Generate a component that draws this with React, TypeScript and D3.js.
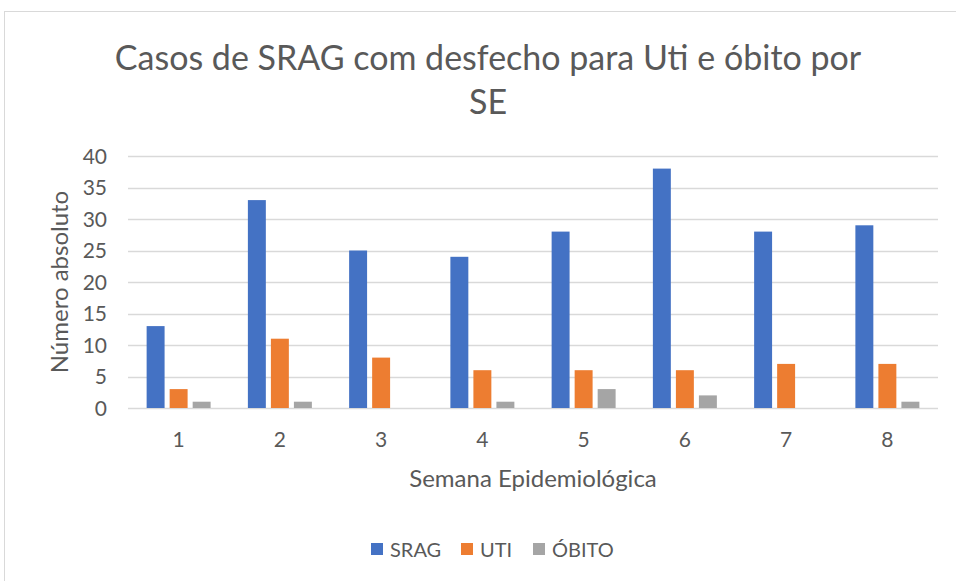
import * as d3 from "d3";

const weeks = ["1", "2", "3", "4", "5", "6", "7", "8"];
const srag = [13, 33, 25, 24, 28, 38, 28, 29];
const uti = [3, 11, 8, 6, 6, 6, 7, 7];
const obito = [1, 1, 0, 1, 3, 2, 0, 1];
const seriesNames = ["SRAG", "UTI", "ÓBITO"];
const seriesColors = ["#4472C4", "#ED7D31", "#A5A5A5"];
const yTicks = [0, 5, 10, 15, 20, 25, 30, 35, 40];

const W = 956;
const H = 581;
const font = "Lato, 'Open Sans', sans-serif";
const textColor = "#595959";

export default function App() {
  const series = [srag, uti, obito];
  const left = 128;
  const right = 938;
  const top = 156;
  const bottom = 408;

  const x0 = d3.scaleBand<string>().domain(weeks).range([left, right]).paddingInner(0.368).paddingOuter(0.184);
  const x1 = d3.scaleBand<string>().domain(seriesNames).range([0, x0.bandwidth()]).paddingInner(0.22);
  const y = d3.scaleLinear().domain([0, 40]).range([bottom, top]);

  const legendX = [371, 461, 533];

  return (
    <svg width={W} height={H} style={{ position: "absolute", left: 0, top: 0 }} fontFamily={font}>
      <rect x={0} y={0} width={W} height={H} fill="#fff" />
      <rect x={4.5} y={11.5} width={1000} height={700} fill="#fff" stroke="#D9D9D9" />
      <text x={488} y={70} textAnchor="middle" fontSize={34} fill={textColor}>
        Casos de SRAG com desfecho para Uti e óbito por
      </text>
      <text x={488} y={114} textAnchor="middle" fontSize={34} fill={textColor}>
        SE
      </text>
      {yTicks.map((t) => (
        <g key={t}>
          <line x1={left} x2={right} y1={Math.round(y(t)) + 0.5} y2={Math.round(y(t)) + 0.5} stroke="#D9D9D9" strokeWidth={1.5} />
          <text x={107} y={y(t) + 7.5} textAnchor="end" fontSize={21} fill={textColor}>
            {t}
          </text>
        </g>
      ))}
      {weeks.map((w, i) => (
        <g key={w}>
          {series.map((s, j) => (
            <rect
              key={j}
              x={(x0(w) ?? 0) + (x1(seriesNames[j]) ?? 0)}
              y={y(s[i])}
              width={x1.bandwidth()}
              height={y(0) - y(s[i])}
              fill={seriesColors[j]}
            />
          ))}
          <text x={(x0(w) ?? 0) + x0.bandwidth() / 2} y={447} textAnchor="middle" fontSize={21} fill={textColor}>
            {w}
          </text>
        </g>
      ))}
      <text x={533} y={487} textAnchor="middle" fontSize={24} fill={textColor}>
        Semana Epidemiológica
      </text>
      <text transform="translate(68,282) rotate(-90)" textAnchor="middle" fontSize={24} fill={textColor}>
        Número absoluto
      </text>
      {seriesNames.map((n, j) => (
        <g key={n}>
          <rect x={legendX[j]} y={543} width={12} height={12} fill={seriesColors[j]} />
          <text x={legendX[j] + 19} y={557} fontSize={20} fill={textColor}>
            {n}
          </text>
        </g>
      ))}
    </svg>
  );
}
